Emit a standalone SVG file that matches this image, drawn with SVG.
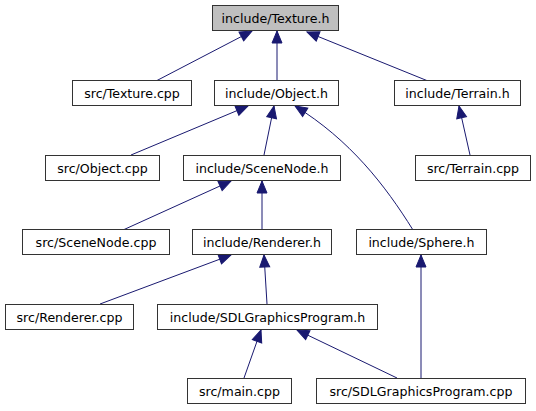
<svg xmlns="http://www.w3.org/2000/svg" width="536" height="411" viewBox="0 0 536 411">
<style>
.node rect{fill:#ffffff;stroke:#333333;stroke-width:1}
.node.root rect{fill:#bfbfbf}
.node text{font-family:"DejaVu Sans","Liberation Sans",sans-serif;font-size:12.6px;fill:#000000;text-anchor:middle}
.edges path{fill:none;stroke:#191970;stroke-width:1;marker-end:url(#arrow)}
</style>
<defs>
<marker id="arrow" viewBox="0 0 12 10" markerWidth="12" markerHeight="10" refX="12" refY="5" orient="auto" markerUnits="userSpaceOnUse" overflow="visible">
<path d="M0,0 L12,5 L0,10 z" fill="#191970" stroke="#191970" stroke-width="1"/>
</marker>
</defs>
<rect width="536" height="411" fill="#ffffff"/>
<g id="edges" class="edges">
<path d="M156,81 L252,31"/>
<path d="M277,81 L277,31"/>
<path d="M428,81 L307,32"/>
<path d="M131,155 L248,106"/>
<path d="M264,155 L274,106"/>
<path d="M413,230 C385,185 350,140 295,106"/>
<path d="M470,155 L459,106"/>
<path d="M123,230 L231,181"/>
<path d="M262,230 L262,181"/>
<path d="M100,304 L231,255"/>
<path d="M267,304 L264,255"/>
<path d="M421,378 L421,255"/>
<path d="M244,378 L261,330"/>
<path d="M397,378 L297,330"/>
</g>
<g id="n_texture_h" class="node root"><rect x="212.5" y="5.5" width="126" height="25"/><text x="275.5" y="22.5">include/Texture.h</text></g>
<g id="n_texture_cpp" class="node"><rect x="72.5" y="80.5" width="119" height="25"/><text x="132" y="97.5">src/Texture.cpp</text></g>
<g id="n_object_h" class="node"><rect x="214.5" y="80.5" width="124" height="25"/><text x="276.5" y="97.5">include/Object.h</text></g>
<g id="n_terrain_h" class="node"><rect x="394.5" y="80.5" width="126" height="25"/><text x="457.5" y="97.5">include/Terrain.h</text></g>
<g id="n_object_cpp" class="node"><rect x="45.5" y="155.5" width="114" height="25"/><text x="102.5" y="172.5">src/Object.cpp</text></g>
<g id="n_scenenode_h" class="node"><rect x="183.5" y="155.5" width="157" height="25"/><text x="262" y="172.5">include/SceneNode.h</text></g>
<g id="n_terrain_cpp" class="node"><rect x="415.5" y="155.5" width="115" height="25"/><text x="473" y="172.5">src/Terrain.cpp</text></g>
<g id="n_scenenode_cpp" class="node"><rect x="22.5" y="229.5" width="147" height="25"/><text x="96" y="246.5">src/SceneNode.cpp</text></g>
<g id="n_renderer_h" class="node"><rect x="192.5" y="229.5" width="139" height="25"/><text x="262" y="246.5">include/Renderer.h</text></g>
<g id="n_sphere_h" class="node"><rect x="356.5" y="229.5" width="130" height="25"/><text x="421.5" y="246.5">include/Sphere.h</text></g>
<g id="n_renderer_cpp" class="node"><rect x="5.5" y="304.5" width="128" height="25"/><text x="69.5" y="321.5">src/Renderer.cpp</text></g>
<g id="n_sdlgp_h" class="node"><rect x="157.5" y="304.5" width="220" height="25"/><text x="267.5" y="321.5">include/SDLGraphicsProgram.h</text></g>
<g id="n_main_cpp" class="node"><rect x="187.5" y="378.5" width="104" height="25"/><text x="239.5" y="395.5">src/main.cpp</text></g>
<g id="n_sdlgp_cpp" class="node"><rect x="316.5" y="378.5" width="209" height="25"/><text x="421" y="395.5">src/SDLGraphicsProgram.cpp</text></g>
</svg>
